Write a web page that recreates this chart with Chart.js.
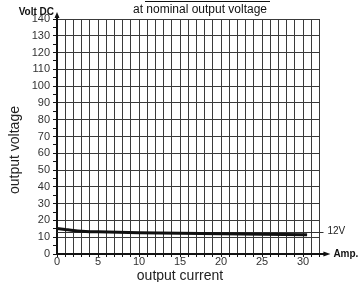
<!DOCTYPE html>
<html>
<head>
<meta charset="utf-8">
<script src="https://cdn.jsdelivr.net/npm/chart.js@4"></script>
<style>
  html, body { margin: 0; padding: 0; background: #fff; }
  #wrap { width: 359px; height: 282px; }
</style>
</head>
<body>
<div id="wrap"><canvas id="c" width="359" height="282"></canvas></div>
<script>
// ---- data ----
const currentA = [0, 1, 2, 3, 5, 10, 15, 20, 25, 30.5];
const outputV  = [15.2, 14.6, 14.0, 13.6, 13.2, 12.7, 12.3, 12.0, 11.7, 11.4];
const nominalX = [0, 32.5];
const nominalV = [12.8, 12.8];
const xTickLabels = [0, 5, 10, 15, 20, 25, 30];
const yTickLabels = [0, 10, 20, 30, 40, 50, 60, 70, 80, 90, 100, 110, 120, 130, 140];
const titleText = 'at nominal output voltage';
const yTitle = 'output voltage';
const xTitle = 'output current';
const yUnit = 'Volt DC';
const xUnit = 'Amp.';
const nominalLabel = '12V';

const FONT = '"Liberation Sans", Arial, Helvetica, sans-serif';

const extras = {
  id: 'extras',
  afterDraw(chart) {
    const ctx = chart.ctx;
    const xs = chart.scales.x, ys = chart.scales.y;
    const x0 = xs.getPixelForValue(0);
    const y0 = ys.getPixelForValue(0);
    const yTop = ys.getPixelForValue(140);
    const xEnd = xs.getPixelForValue(32);
    ctx.save();
    ctx.fillStyle = '#111';
    ctx.strokeStyle = '#111';
    // y arrow
    ctx.lineWidth = 2;
    ctx.beginPath(); ctx.moveTo(x0, yTop); ctx.lineTo(x0, yTop - 3); ctx.stroke();
    ctx.beginPath(); ctx.moveTo(x0, yTop - 7); ctx.lineTo(x0 - 2.5, yTop - 1); ctx.lineTo(x0 + 2.5, yTop - 1); ctx.closePath(); ctx.fill();
    // x arrow
    ctx.beginPath(); ctx.moveTo(xEnd, y0); ctx.lineTo(xEnd + 5, y0); ctx.stroke();
    ctx.beginPath(); ctx.moveTo(xEnd + 11, y0); ctx.lineTo(xEnd + 4, y0 - 2.5); ctx.lineTo(xEnd + 4, y0 + 2.5); ctx.closePath(); ctx.fill();

    // unit labels
    ctx.font = 'bold 10px ' + FONT;
    ctx.textBaseline = 'middle';
    ctx.textAlign = 'right';
    ctx.fillText(yUnit, x0 - 3, yTop - 7);
    ctx.textAlign = 'left';
    ctx.fillText(xUnit, xEnd + 14, y0);

    // nominal label
    ctx.font = '10px ' + FONT;
    ctx.fillStyle = '#222';
    ctx.fillText(nominalLabel, xEnd + 8, ys.getPixelForValue(nominalV[0]) - 1);

    // title with overline
    ctx.font = '12px ' + FONT;
    ctx.textAlign = 'center';
    ctx.fillStyle = '#111';
    ctx.fillText(titleText, 200, 10);
    ctx.lineWidth = 1;
    ctx.beginPath(); ctx.moveTo(145, 1.5); ctx.lineTo(270, 1.5); ctx.stroke();

    // axis titles
    ctx.font = '14px ' + FONT;
    ctx.fillStyle = '#222';
    ctx.fillText(xTitle, 180, 276);
    ctx.save();
    ctx.translate(15, 150);
    ctx.rotate(-Math.PI / 2);
    ctx.fillText(yTitle, 0, 0);
    ctx.restore();
    ctx.restore();
  }
};

new Chart(document.getElementById('c'), {
  type: 'line',
  data: {
    datasets: [
      {
        label: 'output',
        data: currentA.map((x, i) => ({ x, y: outputV[i] })),
        borderColor: '#111',
        borderWidth: 3,
        pointRadius: 0,
        tension: 0.3,
        fill: false
      },
      {
        label: 'nominal',
        data: nominalX.map((x, i) => ({ x, y: nominalV[i] })),
        borderColor: '#333',
        borderWidth: 1,
        pointRadius: 0,
        fill: false,
        clip: false
      }
    ]
  },
  options: {
    responsive: false,
    animation: false,
    devicePixelRatio: 1,
    layout: { padding: { top: 19, right: 39.6, left: 0, bottom: 0 } },
    plugins: { legend: { display: false }, tooltip: { enabled: false }, title: { display: false } },
    scales: {
      x: {
        type: 'linear',
        min: 0, max: 32,
        afterFit(s) { s.height = 28; },
        border: { display: true, color: '#111', width: 2 },
        grid: { color: '#3a3a3a', lineWidth: 1, tickLength: 3, tickColor: '#111' },
        ticks: {
          stepSize: 1, autoSkip: false, maxRotation: 0, padding: -2,
          color: '#333', font: { family: FONT, size: 11 },
          callback: v => xTickLabels.includes(v) ? String(v) : ''
        }
      },
      y: {
        type: 'linear',
        min: 0, max: 140,
        afterFit(s) { s.width = 57; },
        border: { display: true, color: '#111', width: 2 },
        grid: {
          color: c => (c.tick && c.tick.value % 10 === 0) ? '#3a3a3a' : 'rgba(0,0,0,0)',
          lineWidth: 1, tickLength: 4, tickColor: '#111'
        },
        ticks: {
          stepSize: 5, autoSkip: false, padding: 3,
          color: '#333', font: { family: FONT, size: 11 },
          callback: v => yTickLabels.includes(v) ? String(v) : ''
        }
      }
    }
  },
  plugins: [extras]
});
</script>
</body>
</html>
